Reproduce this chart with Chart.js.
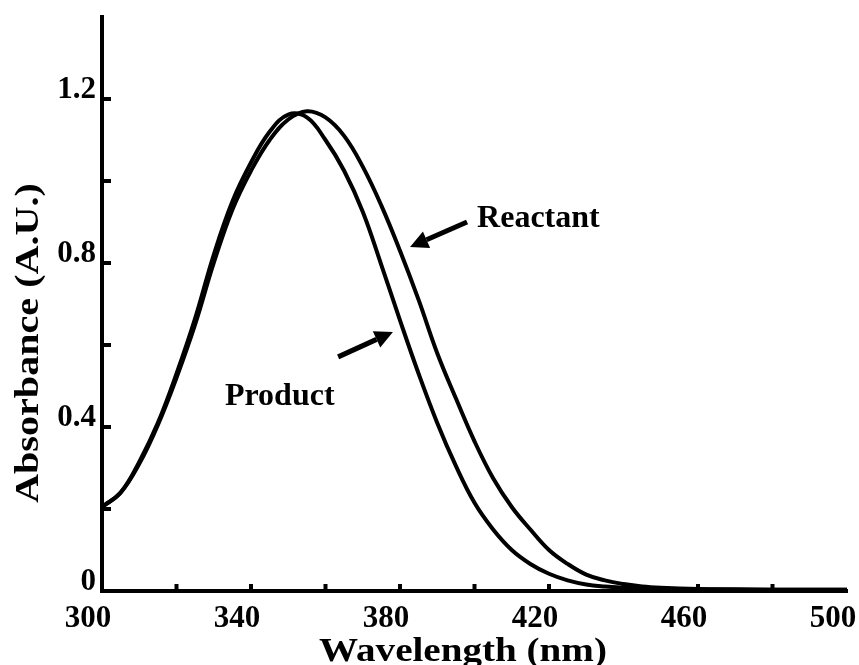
<!DOCTYPE html>
<html lang="en">
<head>
    <meta charset="UTF-8">
    <title>Absorbance spectra</title>
    <style>
        html, body { margin: 0; padding: 0; background: #fff; }
        #wrap { width: 859px; height: 665px; }
    </style>
</head>
<body>
    <div id="wrap"><canvas id="spectrum" width="859" height="665"></canvas></div>

    <script src="https://cdn.jsdelivr.net/npm/chart.js"></script>
    <script>
        // values
        const wavelengths = [300, 305, 310, 315, 320, 325, 330, 335, 340, 345, 350, 355, 360, 365, 370, 375, 380, 385, 390, 395,
                             400, 405, 410, 415, 420, 425, 430, 435, 440, 445, 450, 460, 470, 480, 490, 500];
        const product = [0.205, 0.24, 0.315, 0.41, 0.53, 0.665, 0.82, 0.95, 1.045, 1.12, 1.162, 1.155, 1.1, 1.025, 0.925, 0.795, 0.66, 0.53, 0.41, 0.305,
                         0.215, 0.15, 0.10, 0.066, 0.042, 0.026, 0.016, 0.011, 0.008, 0.006, 0.005, 0.004, 0.003, 0.003, 0.003, 0.003];
        const reactant = [0.205, 0.24, 0.31, 0.405, 0.52, 0.65, 0.80, 0.93, 1.025, 1.10, 1.15, 1.17, 1.155, 1.11, 1.035, 0.94, 0.83, 0.71, 0.58, 0.47,
                          0.365, 0.275, 0.205, 0.15, 0.10, 0.066, 0.04, 0.026, 0.017, 0.011, 0.008, 0.005, 0.004, 0.003, 0.003, 0.003];
        const xTickLabels = [300, 340, 380, 420, 460, 500];
        const yTickLabels = [0, 0.4, 0.8, 1.2];

        // arrows + labels, in data units
        const notes = [
            { text: 'Reactant', tx: 400.7, ty: 0.888, from: [398.0, 0.90], to: [382.7, 0.839] },
            { text: 'Product', tx: 333.0, ty: 0.454, from: [363.4, 0.571], to: [378.1, 0.632] }
        ];

        const serif = "'Liberation Serif', 'Times New Roman', serif";

        const innerTicks = {
            id: 'innerTicks',
            afterDatasetsDraw(chart) {
                const { ctx, chartArea, scales } = chart;
                ctx.save();
                ctx.strokeStyle = '#000';
                ctx.lineWidth = 4;
                ctx.beginPath();
                scales.x.ticks.forEach(t => {
                    if (t.value <= scales.x.min || t.value >= scales.x.max) return;
                    const px = scales.x.getPixelForValue(t.value);
                    ctx.moveTo(px, chartArea.bottom);
                    ctx.lineTo(px, chartArea.bottom - 7);
                });
                scales.y.ticks.forEach(t => {
                    if (t.value >= scales.y.max - 1e-6) return;
                    const py = scales.y.getPixelForValue(t.value);
                    ctx.moveTo(chartArea.left, py);
                    ctx.lineTo(chartArea.left + 9, py);
                });
                ctx.stroke();
                ctx.restore();
            }
        };

        const notesPlugin = {
            id: 'notes',
            afterDatasetsDraw(chart) {
                const { ctx, scales } = chart;
                ctx.save();
                ctx.fillStyle = '#000';
                ctx.strokeStyle = '#000';
                ctx.font = 'bold 32px ' + serif;
                ctx.textBaseline = 'alphabetic';
                notes.forEach(n => {
                    ctx.fillText(n.text, scales.x.getPixelForValue(n.tx), scales.y.getPixelForValue(n.ty));
                    const x1 = scales.x.getPixelForValue(n.from[0]), y1 = scales.y.getPixelForValue(n.from[1]);
                    const x2 = scales.x.getPixelForValue(n.to[0]), y2 = scales.y.getPixelForValue(n.to[1]);
                    const a = Math.atan2(y2 - y1, x2 - x1);
                    const head = 18, half = 9;
                    const bx = x2 - head * Math.cos(a), by = y2 - head * Math.sin(a);
                    ctx.lineWidth = 5;
                    ctx.beginPath();
                    ctx.moveTo(x1, y1);
                    ctx.lineTo(bx, by);
                    ctx.stroke();
                    ctx.beginPath();
                    ctx.moveTo(x2, y2);
                    ctx.lineTo(bx + half * Math.sin(a), by - half * Math.cos(a));
                    ctx.lineTo(bx - half * Math.sin(a), by + half * Math.cos(a));
                    ctx.closePath();
                    ctx.fill();
                });

                // axis titles (the original lettering is a bit wider than plain Times)
                ctx.font = 'bold 34px ' + serif;
                ctx.textAlign = 'center';
                ctx.textBaseline = 'alphabetic';
                ctx.save();
                ctx.translate(463, 661);
                ctx.scale(1.15, 1);
                ctx.fillText('Wavelength (nm)', 0, 0);
                ctx.restore();
                ctx.translate(38, 343);
                ctx.rotate(-Math.PI / 2);
                ctx.scale(1.18, 1);
                ctx.fillText('Absorbance (A.U.)', 0, 0);
                ctx.restore();
            }
        };

        function createChart() {
            const ctx = document.getElementById('spectrum').getContext('2d');
            const line = (label, values) => ({
                label: label,
                data: wavelengths.map((w, i) => ({ x: w, y: values[i] })),
                borderColor: '#000',
                borderWidth: 4,
                pointRadius: 0,
                fill: false,
                tension: 0.4
            });

            new Chart(ctx, {
                type: 'line',
                data: {
                    datasets: [line('Reactant', reactant), line('Product', product)]
                },
                options: {
                    responsive: false,
                    animation: false,
                    events: [],
                    layout: { padding: { top: 17, right: 12, left: 0, bottom: 0 } },
                    plugins: {
                        legend: { display: false },
                        tooltip: { enabled: false }
                    },
                    scales: {
                        x: {
                            type: 'linear',
                            min: 300,
                            max: 500,
                            grid: { display: false, drawTicks: false },
                            border: { display: true, color: '#000', width: 4 },
                            ticks: {
                                stepSize: 20,
                                autoSkip: false,
                                maxRotation: 0,
                                padding: 9,
                                labelOffset: -14,
                                color: '#000',
                                font: { family: serif, size: 31, weight: 'bold' },
                                callback: v => xTickLabels.includes(v) ? String(v) : ''
                            },
                            afterFit: s => { s.height = 74; s.paddingLeft = 0; s.paddingRight = 0; }
                        },
                        y: {
                            min: 0,
                            max: 1.4,
                            grid: { display: false, drawTicks: false },
                            border: { display: true, color: '#000', width: 4 },
                            ticks: {
                                stepSize: 0.2,
                                autoSkip: false,
                                padding: 6,
                                labelOffset: -9,
                                color: '#000',
                                font: { family: serif, size: 31, weight: 'bold' },
                                callback: v => {
                                    const r = Math.round(v * 10) / 10;
                                    if (!yTickLabels.includes(r)) return '';
                                    return r === 0 ? '0' : r.toFixed(1);
                                }
                            },
                            afterFit: s => { s.width = 102; s.paddingTop = 0; s.paddingBottom = 0; }
                        }
                    }
                },
                plugins: [innerTicks, notesPlugin]
            });
        }

        createChart();
    </script>
</body>
</html>
